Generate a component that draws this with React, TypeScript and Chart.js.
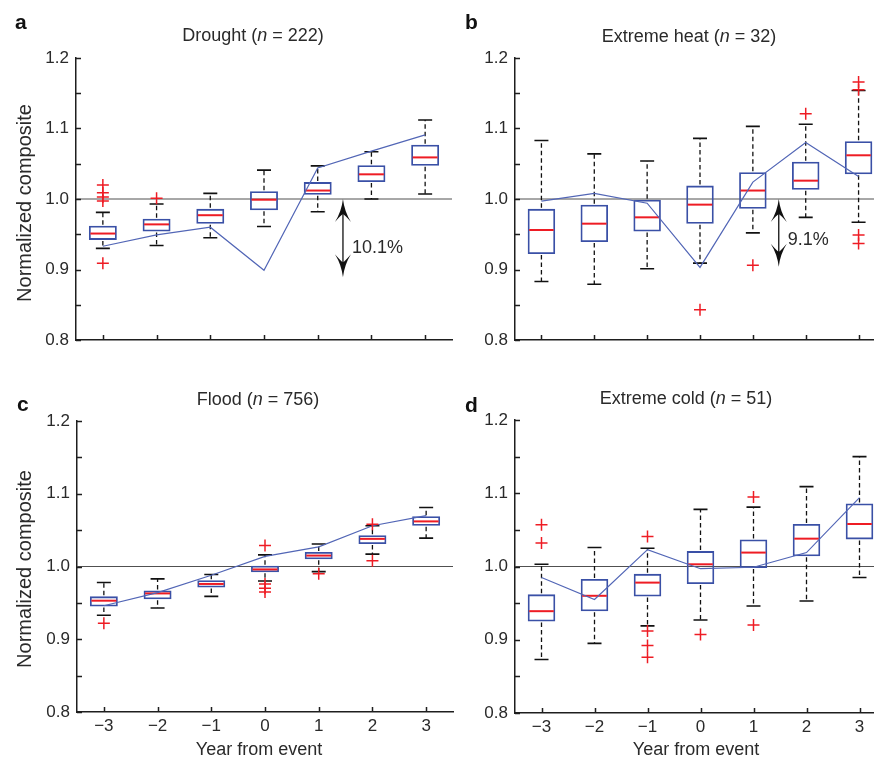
import React, { useEffect, useRef } from 'react';
import { Chart, registerables } from 'chart.js';

Chart.register(...registerables);

// ---------------- DATA ----------------
const years = ['−3', '−2', '−1', '0', '1', '2', '3'];

// a: Drought
const droughtLo = [0.930, 0.934, 0.945, 0.961, 0.982, 1.000, 1.007];
const droughtQ1 = [0.942, 0.954, 0.965, 0.984, 1.006, 1.024, 1.047];
const droughtMed = [0.951, 0.964, 0.977, 0.999, 1.012, 1.035, 1.059];
const droughtQ3 = [0.962, 0.972, 0.986, 1.011, 1.024, 1.048, 1.077];
const droughtHi = [0.981, 0.993, 1.008, 1.041, 1.047, 1.067, 1.112];
const droughtMean = [0.933, 0.949, 0.960, 0.899, 1.044, 1.068, 1.091];
const droughtOutYear = ['−3', '−3', '−3', '−3', '−3', '−2'];
const droughtOutVal = [1.020, 1.009, 1.003, 0.997, 0.909, 1.001];

// b: Extreme heat
const heatLo = [0.883, 0.879, 0.901, 0.909, 0.952, 0.974, 0.967];
const heatQ1 = [0.922, 0.939, 0.954, 0.965, 0.986, 1.013, 1.035];
const heatMed = [0.956, 0.965, 0.974, 0.992, 1.012, 1.026, 1.062];
const heatQ3 = [0.986, 0.992, 0.999, 1.019, 1.038, 1.053, 1.082];
const heatHi = [1.083, 1.064, 1.054, 1.086, 1.103, 1.106, 1.154];
const heatMean = [0.997, 1.008, 0.994, 0.903, 1.024, 1.080, 1.032];
const heatOutYear = ['0', '1', '2', '3', '3', '3', '3'];
const heatOutVal = [0.843, 0.906, 1.121, 1.166, 1.155, 0.949, 0.937];

// c: Flood
const floodLo = [0.933, 0.943, 0.959, 0.980, 0.993, 1.017, 1.039];
const floodQ1 = [0.945, 0.955, 0.971, 0.992, 1.010, 1.031, 1.056];
const floodMed = [0.953, 0.963, 0.976, 0.996, 1.015, 1.038, 1.062];
const floodQ3 = [0.959, 0.967, 0.981, 1.001, 1.020, 1.043, 1.069];
const floodHi = [0.978, 0.983, 0.989, 1.016, 1.031, 1.056, 1.081];
const floodMean = [0.946, 0.964, 0.988, 1.014, 1.027, 1.056, 1.070];
const floodOutYear = ['−3', '0', '0', '0', '0', '1', '2', '2'];
const floodOutVal = [0.922, 1.029, 0.976, 0.970, 0.965, 0.990, 1.058, 1.008];

// d: Extreme cold
const coldLo = [0.873, 0.895, 0.919, 0.927, 0.946, 0.953, 0.985];
const coldQ1 = [0.925, 0.939, 0.959, 0.976, 0.998, 1.014, 1.037];
const coldMed = [0.939, 0.960, 0.978, 1.003, 1.019, 1.038, 1.058];
const coldQ3 = [0.962, 0.983, 0.990, 1.021, 1.037, 1.058, 1.086];
const coldHi = [1.003, 1.026, 1.025, 1.078, 1.081, 1.109, 1.150];
const coldMean = [0.985, 0.955, 1.023, 0.997, 0.999, 1.019, 1.094];
const coldOutYear = ['−3', '−3', '−1', '−1', '−1', '−1', '0', '1', '1'];
const coldOutVal = [1.057, 1.032, 1.041, 0.912, 0.892, 0.876, 0.907, 1.095, 0.920];

const yMin = 0.8;
const yMax = 1.2;
const yStep = 0.05;
const refValue = 1.0;

// ---------------- STYLE / LAYOUT ----------------
const FONT = '"Liberation Sans", Arial, Helvetica, sans-serif';
const TEXT = '#2a2a2a';
const BLUE = '#3a50a6';
const RED = '#ee1c24';
const LINE_BLUE = '#5266b6';
const AXIS = '#1e1e1e';
const CW = 900;
const CH = 761;
const Y_AXIS_W = 60;
const X_AXIS_H = 40;

type Panel = {
  lo: number[]; q1: number[]; med: number[]; q3: number[]; hi: number[]; mean: number[];
  outYear: string[]; outVal: number[];
  area: { left: number; top: number; right: number; bottom: number };
  letter: string; letterX: number; letterY: number;
  titlePre: string; titlePost: string; titleX: number; titleY: number;
  showX: boolean; yTitle: boolean; yTitleY: number; xTitleX: number;
  arrow?: { at: number; from: number; to: number; label: string; labelAt: number };
};

const panels: Panel[] = [
  {
    lo: droughtLo, q1: droughtQ1, med: droughtMed, q3: droughtQ3, hi: droughtHi, mean: droughtMean,
    outYear: droughtOutYear, outVal: droughtOutVal,
    area: { left: 76, top: 58, right: 452, bottom: 340 },
    letter: 'a', letterX: 15, letterY: 29,
    titlePre: 'Drought (', titlePost: ' = 222)', titleX: 253, titleY: 41,
    showX: false, yTitle: true, yTitleY: 203, xTitleX: 0,
    arrow: { at: 4.47, from: 1.0, to: 0.889, label: '10.1%', labelAt: 0.930 },
  },
  {
    lo: heatLo, q1: heatQ1, med: heatMed, q3: heatQ3, hi: heatHi, mean: heatMean,
    outYear: heatOutYear, outVal: heatOutVal,
    area: { left: 515, top: 58, right: 885, bottom: 340 },
    letter: 'b', letterX: 465, letterY: 29,
    titlePre: 'Extreme heat (', titlePost: ' = 32)', titleX: 689, titleY: 42,
    showX: false, yTitle: false, yTitleY: 0, xTitleX: 0,
    arrow: { at: 4.49, from: 1.0, to: 0.904, label: '9.1%', labelAt: 0.942 },
  },
  {
    lo: floodLo, q1: floodQ1, med: floodMed, q3: floodQ3, hi: floodHi, mean: floodMean,
    outYear: floodOutYear, outVal: floodOutVal,
    area: { left: 77, top: 421, right: 453, bottom: 712 },
    letter: 'c', letterX: 17, letterY: 411,
    titlePre: 'Flood (', titlePost: ' = 756)', titleX: 258, titleY: 405,
    showX: true, yTitle: true, yTitleY: 569, xTitleX: 259,
  },
  {
    lo: coldLo, q1: coldQ1, med: coldMed, q3: coldQ3, hi: coldHi, mean: coldMean,
    outYear: coldOutYear, outVal: coldOutVal,
    area: { left: 515, top: 420, right: 886, bottom: 713 },
    letter: 'd', letterX: 465, letterY: 412,
    titlePre: 'Extreme cold (', titlePost: ' = 51)', titleX: 686, titleY: 404,
    showX: true, yTitle: false, yTitleY: 0, xTitleX: 696,
  },
];

function drawArrowHead(ctx: CanvasRenderingContext2D, x: number, tipY: number, dir: number) {
  // dir = -1 : points up ; dir = 1 : points down
  const L = 23, W = 8, N = 15;
  ctx.beginPath();
  ctx.moveTo(x, tipY);
  ctx.quadraticCurveTo(x - 1.5, tipY - dir * L * 0.55, x - W, tipY - dir * L);
  ctx.quadraticCurveTo(x - 2, tipY - dir * (N + 1), x, tipY - dir * N);
  ctx.quadraticCurveTo(x + 2, tipY - dir * (N + 1), x + W, tipY - dir * L);
  ctx.quadraticCurveTo(x + 1.5, tipY - dir * L * 0.55, x, tipY);
  ctx.closePath();
  ctx.fill();
}

function makePlugin(p: Panel) {
  return {
    id: 'boxPanel',
    beforeDatasetsDraw(chart: any) {
      const { ctx, chartArea, scales } = chart;
      const y1 = scales.y.getPixelForValue(refValue);
      ctx.save();
      ctx.strokeStyle = '#505050';
      ctx.lineWidth = 1;
      ctx.beginPath();
      ctx.moveTo(chartArea.left, y1);
      ctx.lineTo(chartArea.right, y1);
      ctx.stroke();
      ctx.restore();
    },
    afterDatasetDraw(chart: any, args: any) {
      if (args.index !== 0) return;
      const { ctx, scales } = chart;
      const x = scales.x, y = scales.y;
      const meta = chart.getDatasetMeta(0);
      ctx.save();
      for (let i = 0; i < years.length; i++) {
        const cx = x.getPixelForValue(i);
        const half = (meta.data[i] as any).width / 2;
        const yHi = y.getPixelForValue(p.hi[i]);
        const yLo = y.getPixelForValue(p.lo[i]);
        const yQ1 = y.getPixelForValue(p.q1[i]);
        const yQ3 = y.getPixelForValue(p.q3[i]);
        const yMed = y.getPixelForValue(p.med[i]);
        // whiskers
        ctx.strokeStyle = '#111';
        ctx.lineWidth = 1.3;
        ctx.setLineDash([4.5, 3]);
        ctx.beginPath();
        ctx.moveTo(cx, yQ3 - 1);
        ctx.lineTo(cx, yHi);
        ctx.moveTo(cx, yQ1 + 1);
        ctx.lineTo(cx, yLo);
        ctx.stroke();
        // caps
        ctx.setLineDash([]);
        ctx.lineWidth = 1.6;
        ctx.beginPath();
        ctx.moveTo(cx - 7, yHi);
        ctx.lineTo(cx + 7, yHi);
        ctx.moveTo(cx - 7, yLo);
        ctx.lineTo(cx + 7, yLo);
        ctx.stroke();
        // median
        ctx.strokeStyle = RED;
        ctx.lineWidth = 2;
        ctx.beginPath();
        ctx.moveTo(cx - half + 1.5, yMed);
        ctx.lineTo(cx + half - 1.5, yMed);
        ctx.stroke();
      }
      ctx.restore();
    },
    afterDraw(chart: any) {
      const { ctx, chartArea, scales } = chart;
      const x = scales.x, y = scales.y;
      ctx.save();
      // inner tick marks
      ctx.strokeStyle = AXIS;
      ctx.lineWidth = 1.5;
      ctx.beginPath();
      for (const t of y.ticks) {
        const py = Math.round(y.getPixelForValue(t.value)) + 0.5;
        ctx.moveTo(chartArea.left, py);
        ctx.lineTo(chartArea.left + 5, py);
      }
      for (let i = 0; i < years.length; i++) {
        const px = Math.round(x.getPixelForValue(i)) + 0.5;
        ctx.moveTo(px, chartArea.bottom);
        ctx.lineTo(px, chartArea.bottom - 5);
      }
      ctx.stroke();

      // arrow annotation
      if (p.arrow) {
        const ax = x.getPixelForValue(p.arrow.at);
        const yTop = y.getPixelForValue(p.arrow.from);
        const yBot = y.getPixelForValue(p.arrow.to);
        ctx.strokeStyle = '#111';
        ctx.fillStyle = '#111';
        ctx.lineWidth = 1.3;
        ctx.beginPath();
        ctx.moveTo(ax, yTop + 12);
        ctx.lineTo(ax, yBot - 12);
        ctx.stroke();
        drawArrowHead(ctx, ax, yTop, -1);
        drawArrowHead(ctx, ax, yBot, 1);
        ctx.fillStyle = TEXT;
        ctx.font = `18px ${FONT}`;
        ctx.textAlign = 'left';
        ctx.textBaseline = 'middle';
        ctx.fillText(p.arrow.label, ax + 9, y.getPixelForValue(p.arrow.labelAt));
      }

      // panel letter
      ctx.fillStyle = '#111';
      ctx.font = `bold 21px ${FONT}`;
      ctx.textAlign = 'left';
      ctx.textBaseline = 'alphabetic';
      ctx.fillText(p.letter, p.letterX, p.letterY);

      // title with italic n
      ctx.fillStyle = TEXT;
      const normal = `18px ${FONT}`;
      const ital = `italic 18px ${FONT}`;
      ctx.font = normal;
      const w1 = ctx.measureText(p.titlePre).width;
      const w3 = ctx.measureText(p.titlePost).width;
      ctx.font = ital;
      const w2 = ctx.measureText('n').width;
      let tx = p.titleX - (w1 + w2 + w3) / 2;
      ctx.font = normal;
      ctx.fillText(p.titlePre, tx, p.titleY);
      tx += w1;
      ctx.font = ital;
      ctx.fillText('n', tx, p.titleY);
      tx += w2;
      ctx.font = normal;
      ctx.fillText(p.titlePost, tx, p.titleY);

      // y title
      if (p.yTitle) {
        ctx.save();
        ctx.translate(31, p.yTitleY);
        ctx.rotate(-Math.PI / 2);
        ctx.font = `20px ${FONT}`;
        ctx.textAlign = 'center';
        ctx.textBaseline = 'alphabetic';
        ctx.fillText('Normalized composite', 0, 0);
        ctx.restore();
      }
      // x title
      if (p.showX) {
        ctx.font = `18px ${FONT}`;
        ctx.textAlign = 'center';
        ctx.textBaseline = 'alphabetic';
        ctx.fillText('Year from event', p.xTitleX, 755);
      }
      ctx.restore();
    },
  };
}

function buildChart(canvas: HTMLCanvasElement, p: Panel) {
  return new Chart(canvas, {
    type: 'bar',
    data: {
      labels: years,
      datasets: [
        {
          type: 'bar',
          data: years.map((_, i) => [p.q1[i], p.q3[i]]) as any,
          backgroundColor: 'rgba(255,255,255,0)',
          borderColor: BLUE,
          borderWidth: 1.8,
          borderSkipped: false,
          barPercentage: 0.52,
          categoryPercentage: 1,
          order: 3,
        } as any,
        {
          type: 'line',
          data: p.mean,
          borderColor: LINE_BLUE,
          borderWidth: 1.2,
          pointRadius: 0,
          fill: false,
          tension: 0,
          order: 2,
        } as any,
        {
          type: 'line',
          data: p.outYear.map((yr, i) => ({ x: yr, y: p.outVal[i] })),
          showLine: false,
          pointStyle: 'cross',
          pointRadius: 6,
          pointBorderColor: RED,
          pointBackgroundColor: RED,
          pointBorderWidth: 1.5,
          order: 1,
        } as any,
      ],
    },
    options: {
      responsive: false,
      animation: false,
      devicePixelRatio: 1,
      events: [],
      layout: {
        padding: {
          left: p.area.left - Y_AXIS_W,
          top: p.area.top,
          right: CW - p.area.right,
          bottom: CH - p.area.bottom - X_AXIS_H,
        },
      },
      plugins: {
        legend: { display: false },
        tooltip: { enabled: false },
        title: { display: false },
      },
      scales: {
        x: {
          type: 'category',
          offset: true,
          grid: { display: false, drawTicks: false },
          border: { display: true, color: AXIS, width: 1.5 },
          ticks: {
            display: p.showX,
            font: { family: FONT, size: 17 },
            color: TEXT,
            padding: 4,
            maxRotation: 0,
            autoSkip: false,
          },
          afterFit(s: any) { s.height = X_AXIS_H; },
        },
        y: {
          type: 'linear',
          min: yMin,
          max: yMax,
          grid: { display: false, drawTicks: false },
          border: { display: true, color: AXIS, width: 1.5 },
          ticks: {
            stepSize: yStep,
            font: { family: FONT, size: 17 },
            color: TEXT,
            padding: 7,
            autoSkip: false,
            callback: (v: any) => {
              const t = Math.round(Number(v) * 100);
              return t % 10 === 0 ? (t / 100).toFixed(1) : '';
            },
          },
          afterFit(s: any) { s.width = Y_AXIS_W; },
        },
      },
    } as any,
    plugins: [makePlugin(p)],
  });
}

export default function App() {
  const refs = useRef<(HTMLCanvasElement | null)[]>([]);
  useEffect(() => {
    const charts = panels.map((p, i) => buildChart(refs.current[i] as HTMLCanvasElement, p));
    return () => charts.forEach((c) => c.destroy());
  }, []);
  return (
    <div style={{ position: 'absolute', left: 0, top: 0, width: 874, height: 761, overflow: 'hidden', background: '#fff' }}>
      {panels.map((_, i) => (
        <canvas
          key={i}
          ref={(el) => { refs.current[i] = el; }}
          width={CW}
          height={CH}
          style={{ position: 'absolute', left: 0, top: 0, width: CW, height: CH }}
        />
      ))}
    </div>
  );
}
